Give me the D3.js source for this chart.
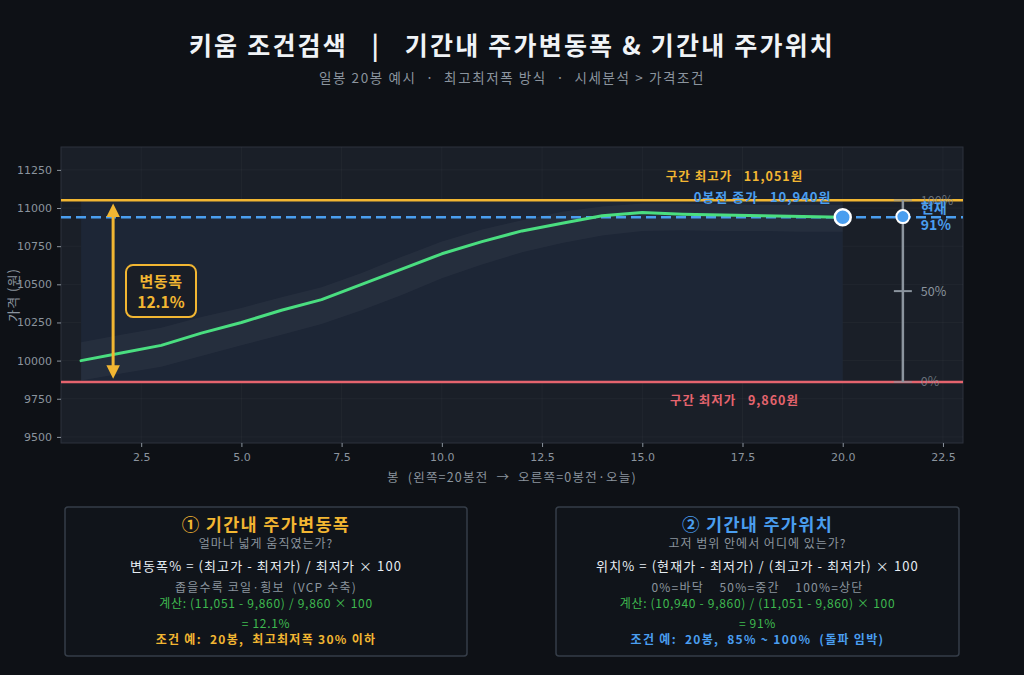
<!DOCTYPE html>
<html><head><meta charset="utf-8">
<script src="https://cdn.jsdelivr.net/npm/d3@7"></script>
<style>
html,body{margin:0;padding:0;background:#0e1116;}
svg{display:block;font-family:"Noto Sans CJK KR","Noto Sans",sans-serif;}
</style></head>
<body><svg id="c" width="1024" height="675"></svg>
<script>
// ---- data ----
const bars = [1,2,3,4,5,6,7,8,9,10,11,12,13,14,15,16,17,18,19,20];
const closes = [10000,10050,10100,10180,10250,10330,10400,10500,10600,10700,10780,10850,10900,10950,10970,10960,10955,10950,10945,10940];
const bandHigh = [10120,10170,10215,10285,10345,10415,10480,10575,10680,10780,10860,10920,10975,11010,11030,11030,11025,11020,11020,11020];
const bandLow = [9870,9915,9960,10030,10100,10170,10240,10330,10430,10540,10630,10710,10770,10820,10850,10855,10850,10850,10845,10845];
const periodHigh = 11051;
const periodLow = 9860;
const lastClose = 10940;
const rangePct = 12.1;
const positionPct = 91;
const yTicks = [9500,9750,10000,10250,10500,10750,11000,11250];
const xTicks = [2.5,5,7.5,10,12.5,15,17.5,20,22.5];
const gaugeTicks = [0,50,100];

const svg = d3.select("#c");
const W=1024,H=675;
const m={l:61,r:963,t:147,b:443};
const x = d3.scaleLinear().domain([0.5,23]).range([m.l,m.r]);
const y = d3.scaleLinear().domain([9460,11400]).range([m.b,m.t]);

const GOLD="#f2b632", RED="#e5646e", BLUE="#4a9eef", GREEN="#4ade80", GRAY="#8b949e";

svg.append("rect").attr("width",W).attr("height",H).attr("fill","#0e1116");

// title
svg.append("text").attr("x",512).attr("y",55).attr("text-anchor","middle")
  .attr("fill","#f0f3f6").attr("font-size",25).attr("font-weight","bold").attr("letter-spacing",2.2)
  .attr("xml:space","preserve")
  .text("키움 조건검색   |   기간내 주가변동폭 & 기간내 주가위치");
svg.append("text").attr("x",512).attr("y",83).attr("text-anchor","middle")
  .attr("fill",GRAY).attr("font-size",13.5).attr("letter-spacing",1.6)
  .attr("xml:space","preserve")
  .text("일봉 20봉 예시  ·  최고최저폭 방식  ·  시세분석 > 가격조건");

// plot bg
svg.append("rect").attr("x",m.l).attr("y",m.t).attr("width",m.r-m.l).attr("height",m.b-m.t)
  .attr("fill","#1a1f28").attr("stroke","#2c333d").attr("stroke-width",1);

const clipId="pc";
svg.append("clipPath").attr("id",clipId).append("rect")
  .attr("x",m.l).attr("y",m.t).attr("width",m.r-m.l).attr("height",m.b-m.t);
const g = svg.append("g").attr("clip-path",`url(#${clipId})`);

// grid
g.selectAll(".gx").data(xTicks).join("line")
  .attr("x1",d=>x(d)).attr("x2",d=>x(d)).attr("y1",m.t).attr("y2",m.b)
  .attr("stroke","#ffffff").attr("stroke-opacity",0.03);
g.selectAll(".gy").data(yTicks).join("line")
  .attr("y1",d=>y(d)).attr("y2",d=>y(d)).attr("x1",m.l).attr("x2",m.r)
  .attr("stroke","#ffffff").attr("stroke-opacity",0.03);

// range rect
g.append("rect").attr("x",x(bars[0])).attr("width",x(bars[bars.length-1])-x(bars[0]))
  .attr("y",y(periodHigh)).attr("height",y(periodLow)-y(periodHigh))
  .attr("fill","#1d2636");

// band
const area = d3.area().x((d,i)=>x(bars[i])).y0((d,i)=>y(bandLow[i])).y1((d,i)=>y(bandHigh[i]));
g.append("path").datum(closes).attr("d",area).attr("fill","#ffffff").attr("fill-opacity",0.04);

// horizontal lines
g.append("line").attr("x1",m.l).attr("x2",m.r).attr("y1",y(periodHigh)).attr("y2",y(periodHigh))
  .attr("stroke",GOLD).attr("stroke-width",2.5);
g.append("line").attr("x1",m.l).attr("x2",m.r).attr("y1",y(periodLow)).attr("y2",y(periodLow))
  .attr("stroke",RED).attr("stroke-width",2.5);
g.append("line").attr("x1",m.l).attr("x2",m.r).attr("y1",y(lastClose)).attr("y2",y(lastClose))
  .attr("stroke",BLUE).attr("stroke-width",2.5).attr("stroke-dasharray","10,5");

// price line
const line = d3.line().x((d,i)=>x(bars[i])).y(d=>y(d));
g.append("path").datum(closes).attr("d",line).attr("fill","none")
  .attr("stroke",GREEN).attr("stroke-width",3).attr("stroke-linejoin","round").attr("stroke-linecap","round");

// current marker
g.append("circle").attr("cx",x(bars[bars.length-1])).attr("cy",y(lastClose)).attr("r",8)
  .attr("fill",BLUE).attr("stroke","#ffffff").attr("stroke-width",2.5);

// range arrow
const ax = x(1.8);
const defs = svg.append("defs");
defs.append("marker").attr("id","ah").attr("viewBox","0 0 10 10").attr("refX",5).attr("refY",5)
  .attr("markerWidth",4.5).attr("markerHeight",4.5).attr("orient","auto-start-reverse")
  .append("path").attr("d","M0,0 L10,5 L0,10 z").attr("fill",GOLD);
g.append("line").attr("x1",ax).attr("x2",ax).attr("y1",y(periodHigh)+10).attr("y2",y(periodLow)-10)
  .attr("stroke",GOLD).attr("stroke-width",3)
  .attr("marker-start","url(#ah)").attr("marker-end","url(#ah)");
const midY = y((periodHigh+periodLow)/2);
g.append("rect").attr("x",126).attr("y",midY-26).attr("width",70).attr("height",52).attr("rx",7)
  .attr("fill","#1a1e26").attr("stroke",GOLD).attr("stroke-width",2);
g.append("text").attr("x",161).attr("y",midY-4).attr("text-anchor","middle").attr("fill",GOLD)
  .attr("font-size",15).attr("font-weight","bold").attr("letter-spacing",0.5).text("변동폭");
g.append("text").attr("x",161).attr("y",midY+17).attr("text-anchor","middle").attr("fill",GOLD)
  .attr("font-size",15.5).attr("font-weight","bold").text(rangePct.toFixed(1)+"%");

// labels of lines
svg.append("text").attr("x",x(17.3)).attr("y",y(periodHigh)-19).attr("text-anchor","middle")
  .attr("fill",GOLD).attr("font-size",12.5).attr("font-weight","bold").attr("letter-spacing",1)
  .attr("xml:space","preserve")
  .text("구간 최고가   "+d3.format(",")(periodHigh)+"원");
svg.append("text").attr("x",x(18.0)).attr("y",y(periodHigh)+2).attr("text-anchor","middle")
  .attr("fill",BLUE).attr("font-size",13).attr("font-weight","bold").attr("letter-spacing",1)
  .attr("xml:space","preserve")
  .text("0봉전 종가   "+d3.format(",")(lastClose)+"원");
svg.append("text").attr("x",x(17.3)).attr("y",y(periodLow)+23).attr("text-anchor","middle")
  .attr("fill",RED).attr("font-size",12.5).attr("font-weight","bold").attr("letter-spacing",1)
  .attr("xml:space","preserve")
  .text("구간 최저가   "+d3.format(",")(periodLow)+"원");

// position gauge
const gx = x(21.5);
const gy = d3.scaleLinear().domain([0,100]).range([y(periodLow),y(periodHigh)]);
svg.append("line").attr("x1",gx).attr("x2",gx).attr("y1",gy(0)).attr("y2",gy(100))
  .attr("stroke",GRAY).attr("stroke-width",2.5);
svg.selectAll(".gt").data(gaugeTicks).join("line")
  .attr("x1",gx-9).attr("x2",gx+9).attr("y1",d=>gy(d)).attr("y2",d=>gy(d))
  .attr("stroke",GRAY).attr("stroke-width",2).attr("stroke-opacity",d=>d===50?1:0.6);
svg.selectAll(".gl").data(gaugeTicks).join("text")
  .attr("x",gx+18).attr("y",d=>gy(d)+4.5).attr("fill",GRAY).attr("font-size",12.5)
  .attr("fill-opacity",d=>d===50?1:0.7)
  .text(d=>d+"%");
svg.append("circle").attr("cx",gx).attr("cy",gy(positionPct)).attr("r",6.5)
  .attr("fill",BLUE).attr("stroke","#ffffff").attr("stroke-width",2);
svg.append("text").attr("x",gx+18).attr("y",gy(positionPct)-4).attr("fill",BLUE)
  .attr("font-size",14).attr("font-weight","bold").text("현재");
svg.append("text").attr("x",gx+18).attr("y",gy(positionPct)+13).attr("fill",BLUE)
  .attr("font-size",14).attr("font-weight","bold").text(positionPct+"%");

// axes
const yAxis = svg.append("g").attr("transform",`translate(${m.l},0)`)
  .call(d3.axisLeft(y).tickValues(yTicks).tickSize(4).tickPadding(5).tickFormat(d3.format("d")));
const xAxis = svg.append("g").attr("transform",`translate(0,${m.b})`)
  .call(d3.axisBottom(x).tickValues(xTicks).tickSize(4).tickPadding(6).tickFormat(d3.format(".1f")));
[yAxis,xAxis].forEach(a=>{
  a.select(".domain").remove();
  a.selectAll(".tick line").attr("stroke",GRAY);
  a.selectAll(".tick text").attr("fill",GRAY).attr("font-size",11)
    .attr("font-family","'DejaVu Sans',sans-serif");
});
svg.append("text").attr("transform",`translate(18,${(m.t+m.b)/2}) rotate(-90)`)
  .attr("text-anchor","middle").attr("fill",GRAY).attr("font-size",13).attr("letter-spacing",1)
  .text("가격 (원)");
svg.append("text").attr("x",(m.l+m.r)/2).attr("y",482).attr("text-anchor","middle")
  .attr("fill",GRAY).attr("font-size",12.5).attr("letter-spacing",1.2).attr("xml:space","preserve")
  .text("봉  (왼쪽=20봉전  →  오른쪽=0봉전·오늘)");

// info boxes
const boxes = [
  {x:65,w:402,color:GOLD,title:"① 기간내 주가변동폭",q:"얼마나 넓게 움직였는가?",
   f:"변동폭% = (최고가 - 최저가) / 최저가 × 100",note:"좁을수록 코일·횡보  (VCP 수축)",
   calc:"계산: (11,051 - 9,860) / 9,860 × 100",res:"= "+rangePct.toFixed(1)+"%",
   cond:"조건 예:  20봉,  최고최저폭 30% 이하"},
  {x:556,w:403,color:BLUE,title:"② 기간내 주가위치",q:"고저 범위 안에서 어디에 있는가?",
   f:"위치% = (현재가 - 최저가) / (최고가 - 최저가) × 100",note:"0%=바닥    50%=중간    100%=상단",
   calc:"계산: (10,940 - 9,860) / (11,051 - 9,860) × 100",res:"= "+positionPct+"%",
   cond:"조건 예:  20봉,  85% ~ 100%  (돌파 임박)"}
];
boxes.forEach(b=>{
  const bg = svg.append("g");
  const cx = b.x + b.w/2;
  bg.append("rect").attr("x",b.x).attr("y",507).attr("width",b.w).attr("height",149).attr("rx",3)
    .attr("fill","#10141a").attr("stroke","#353d48").attr("stroke-width",1.5);
  const t=(txt,yy,fill,size,bold,ls)=>bg.append("text").attr("x",cx).attr("y",yy).attr("text-anchor","middle")
    .attr("fill",fill).attr("font-size",size).attr("font-weight",bold?"bold":"normal")
    .attr("letter-spacing",ls).attr("xml:space","preserve").text(txt);
  t(b.title,531,b.color,17.5,true,1.3);
  t(b.q,548,GRAY,12,false,1);
  t(b.f,571,"#e6edf3",13,false,1.1);
  t(b.note,592,GRAY,12,false,1.2);
  t(b.calc,608,"#3fb950",12,false,0.7);
  t(b.res,628,"#3fb950",12,false,0.7);
  t(b.cond,644,b.color,12,true,1.3);
});
</script></body></html>
